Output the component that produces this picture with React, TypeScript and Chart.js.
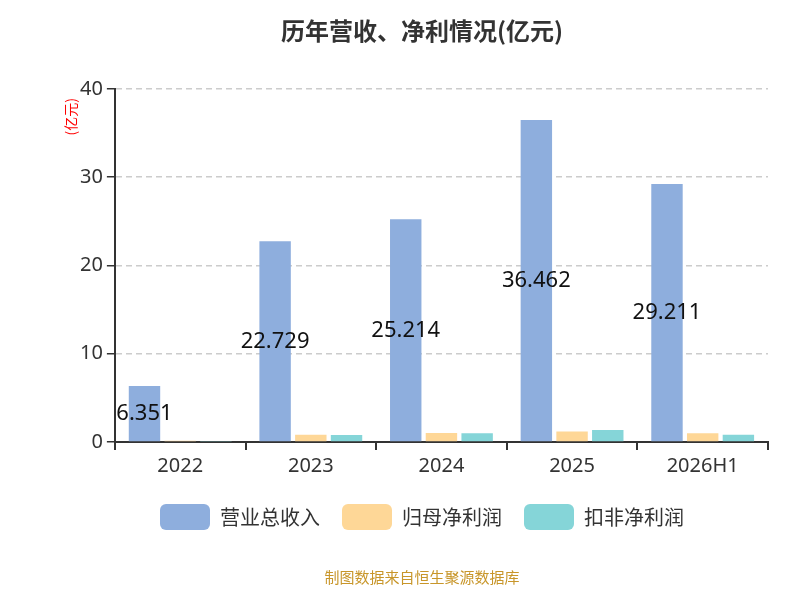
import React, { useEffect, useRef } from "react";
import { Chart, registerables } from "chart.js";
Chart.register(...registerables);

const categories = ["2022", "2023", "2024", "2025", "2026H1"];
const revenue = [6.351, 22.729, 25.214, 36.462, 29.211];
const netProfit = [0.15, 0.83, 1.02, 1.18, 0.98];
const deductedProfit = [0.12, 0.8, 0.98, 1.36, 0.83];
const yTicks = [0, 10, 20, 30, 40];

const labelPlugin = {
  id: "labels",
  afterDatasetsDraw(chart: any) {
    const ctx = chart.ctx;
    const meta = chart.getDatasetMeta(0);
    ctx.save();
    ctx.font = "22px 'Noto Sans', sans-serif";
    ctx.fillStyle = "#111";
    ctx.textAlign = "center";
    ctx.textBaseline = "middle";
    meta.data.forEach((bar: any, i: number) => {
      const y = (bar.y + bar.base) / 2;
      ctx.fillText(String(revenue[i]), bar.x, y);
    });
    // y-axis unit
    const top = chart.chartArea.top;
    ctx.translate(63, top + 28);
    ctx.rotate(-Math.PI / 2);
    ctx.font = "14px 'Noto Sans CJK SC', sans-serif";
    ctx.fillStyle = "red";
    ctx.fillText("(亿元)", 0, 0);
    ctx.restore();
  },
};

export default function App() {
  const ref = useRef<HTMLCanvasElement>(null);
  useEffect(() => {
    const chart = new Chart(ref.current!, {
      type: "bar",
      data: {
        labels: categories,
        datasets: [
          { label: "营业总收入", data: revenue, backgroundColor: "#8eaedd" },
          { label: "归母净利润", data: netProfit, backgroundColor: "#fed797" },
          { label: "扣非净利润", data: deductedProfit, backgroundColor: "#85d5d8" },
        ],
      },
      options: {
        responsive: false,
        animation: false,
        layout: { padding: { left: 68, right: 24, top: 0, bottom: 0 } },
        datasets: { bar: { categoryPercentage: 0.82, barPercentage: 0.88 } } as any,
        plugins: {
          title: {
            display: true,
            text: "历年营收、净利情况(亿元)",
            font: { size: 24, weight: "bold", family: "'Noto Sans CJK SC', sans-serif" },
            color: "#333",
            padding: { top: 8, bottom: 44 },
          },
          legend: {
            position: "bottom",
            labels: {
              font: { size: 20, family: "'Noto Sans CJK SC', sans-serif" },
              color: "#333",
              boxWidth: 50,
              boxHeight: 26,
              useBorderRadius: true,
              borderRadius: 6,
              padding: 22,
            },
          },
          subtitle: {
            display: true,
            position: "bottom",
            text: "制图数据来自恒生聚源数据库",
            color: "#c8962a",
            font: { size: 15, family: "'Noto Sans CJK SC', sans-serif" },
            padding: { top: 28, bottom: 6 },
          },
          tooltip: { enabled: false },
        },
        scales: {
          x: {
            grid: { display: true, drawOnChartArea: false, drawTicks: true, tickLength: 8, color: "#333", lineWidth: 2 },
            border: { color: "#333", width: 2 },
            ticks: { color: "#333", font: { size: 20, family: "'Noto Sans', sans-serif" }, padding: 4 },
          },
          y: {
            min: 0,
            max: 40,
            afterBuildTicks: (axis: any) => { axis.ticks = yTicks.map((v) => ({ value: v })); },
            grid: { color: "#ccc", drawTicks: true, tickLength: 8, tickColor: "#333", lineWidth: 1.5 },
            border: { color: "#333", width: 2, dash: [6, 4] },
            ticks: { color: "#333", font: { size: 20, family: "'Noto Sans', sans-serif" }, padding: 4 },
          },
        },
      },
      plugins: [labelPlugin],
    });
    return () => chart.destroy();
  }, []);
  return <canvas ref={ref} width={784} height={584} />;
}
